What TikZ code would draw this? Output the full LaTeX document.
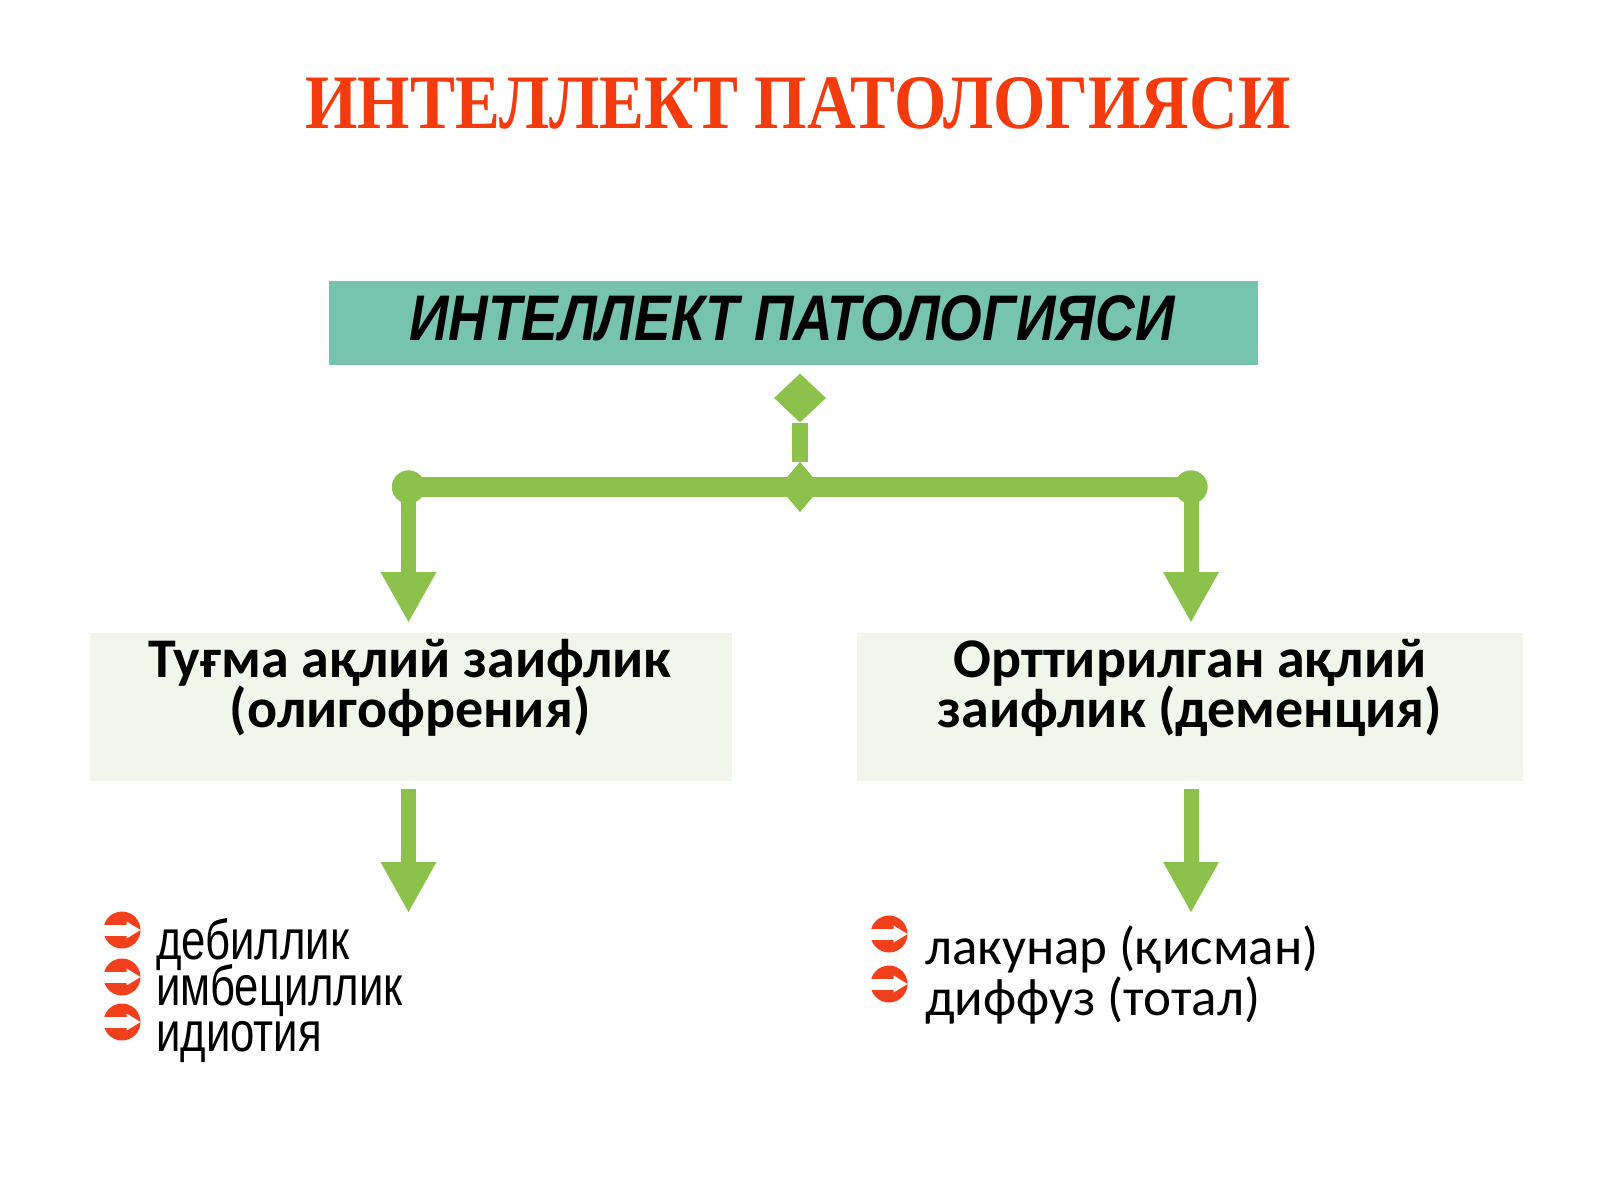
\documentclass[tikz,border=0pt]{standalone}
\usepackage{fontspec}
\setmainfont{Carlito}
\newfontfamily\titlefont{Liberation Serif}
\newfontfamily\arialfont{Liberation Sans}
\newfontfamily\narrowfont[FakeStretch=0.78]{Liberation Sans}
\usetikzlibrary{shapes.geometric,arrows.meta}
\definecolor{titlered}{HTML}{F43B0E}
\definecolor{tealbox}{HTML}{77C4AE}
\definecolor{lgreen}{HTML}{8CC14C}
\definecolor{boxfill}{HTML}{F1F5EA}
\definecolor{bulred}{HTML}{F2401C}
\newcommand{\tightlines}{\lineskiplimit=-100pt\lineskip=0pt}
\tikzset{
  gline/.style={draw=lgreen, line width=20pt},
  gshaft/.style={draw=lgreen, line width=15pt, -{Triangle[width=52pt,length=51pt]}},
  gdiamond/.style={diamond, fill=lgreen, inner sep=0pt},
  gdot/.style={circle, fill=lgreen, minimum size=33pt, inner sep=0pt},
  catbox/.style={fill=boxfill, inner sep=0pt},
  cattext/.style={anchor=base, inner sep=0pt, align=center,
    font=\bfseries\fontsize{56}{50}\selectfont\tightlines},
  lefttext/.style={anchor=base west, inner sep=0pt, align=left,
    font=\narrowfont\fontsize{56}{46}\selectfont\tightlines},
  righttext/.style={anchor=base west, inner sep=0pt, align=left,
    font=\fontsize{53}{51}\selectfont\tightlines},
  redarrow/.pic={
    \fill[bulred] (0,0) circle (18.5pt);
    \fill[white] (-19,-5.5) rectangle (5.5,5.5);
    \fill[white] (4.5,-8.5) -- (18.5,0) -- (4.5,8.5) -- cycle;
  }
}
\begin{document}
\begin{tikzpicture}[x=1pt,y=-1pt]
\useasboundingbox[fill=white] (0,0) rectangle (1600,1200);

% title
\node[anchor=base, inner sep=0pt, text=titlered] (title) at (798,128)
  {\resizebox{985pt}{51pt}{\titlefont\bfseries ИНТЕЛЛЕКТ ПАТОЛОГИЯСИ}};

% top box
\node[fill=tealbox, minimum width=929pt, minimum height=84pt, inner sep=0pt] (top) at (793.5,323) {};
\node[anchor=base, inner sep=0pt] (toptext) at (792,340)
  {\resizebox{765pt}{45pt}{\arialfont\bfseries\itshape ИНТЕЛЛЕКТ ПАТОЛОГИЯСИ}};

% connector
\node[gdiamond, minimum width=52pt, minimum height=49pt] (d1) at (800,398) {};
\node[gdiamond, minimum width=42pt, minimum height=50pt] (d2) at (800,487) {};
\node[gdot] (cL) at (408.5,487) {};
\node[gdot] (cR) at (1191,487) {};
\draw[draw=lgreen, line width=16pt] (d1.south) -- (d2.north);
\draw[gline] (cL.center) -- (d2.center) -- (cR.center);
\node[gdot] at (cL) {};
\node[gdot] at (cR) {};
\node[gdiamond, minimum width=42pt, minimum height=50pt] at (d2) {};
\coordinate (tL) at (408.5,623);
\coordinate (tR) at (1191,623);
\draw[gshaft] (cL.center) -- (tL);
\draw[gshaft] (cR.center) -- (tR);

% category boxes
\node[catbox, minimum width=642pt, minimum height=148pt] (boxL) at (411,707) {};
\node[catbox, minimum width=666pt, minimum height=148pt] (boxR) at (1190,707) {};
\node[cattext] (ltext) at (410,727) {Туғма ақлий заифлик\\(олигофрения)};
\node[cattext] (rtext) at (1190,727) {Орттирилган ақлий\\заифлик (деменция)};

% lower arrows
\coordinate (sL) at (408.5,789);
\coordinate (eL) at (408.5,913);
\coordinate (sR) at (1191,789);
\coordinate (eR) at (1191,913);
\draw[gshaft] (sL) -- (eL);
\draw[gshaft] (sR) -- (eR);

% left list
\pic at (122,930) {redarrow};
\pic at (122,977) {redarrow};
\pic at (122,1022) {redarrow};
\node[lefttext] (leftlist) at (156,1051) {дебиллик\\имбециллик\\идиотия};

% right list
\pic at (889,934) {redarrow};
\pic at (889,984) {redarrow};
\node[righttext] (rightlist) at (925,1015) {лакунар (қисман)\\диффуз (тотал)};
\end{tikzpicture}
\end{document}
